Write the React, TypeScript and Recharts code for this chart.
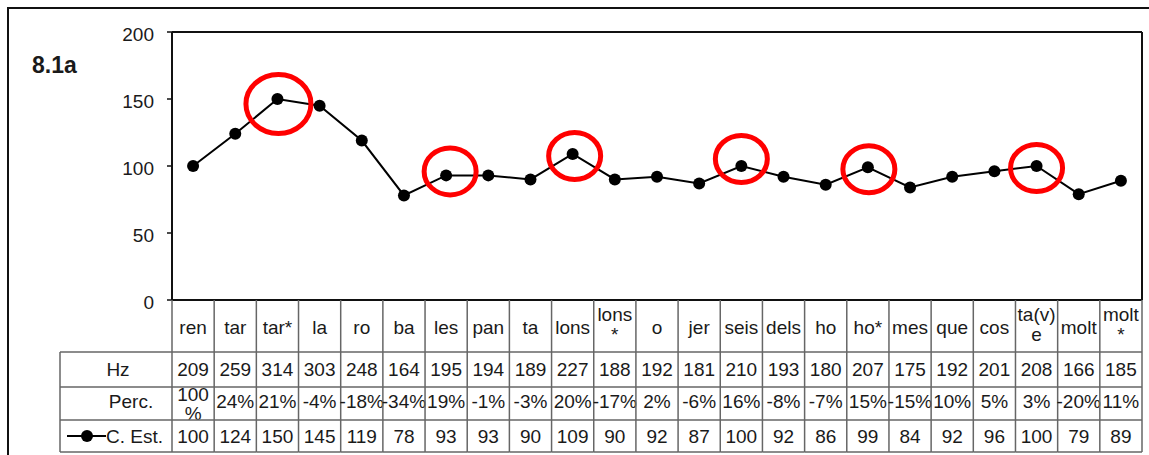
import React from "react";
import { LineChart, Line, XAxis, YAxis, ReferenceLine } from "recharts";

// syllables (x categories)
const cats = [
  "ren", "tar", "tar*", "la", "ro", "ba", "les", "pan", "ta", "lons", "lons*", "o",
  "jer", "seis", "dels", "ho", "ho*", "mes", "que", "cos", "ta(v)e", "molt", "molt*",
];
const hz = [209, 259, 314, 303, 248, 164, 195, 194, 189, 227, 188, 192, 181, 210, 193, 180, 207, 175, 192, 201, 208, 166, 185];
const perc = [100, 24, 21, -4, -18, -34, 19, -1, -3, 20, -17, 2, -6, 16, -8, -7, 15, -15, 10, 5, 3, -20, 11];
const est = [100, 124, 150, 145, 119, 78, 93, 93, 90, 109, 90, 92, 87, 100, 92, 86, 99, 84, 92, 96, 100, 79, 89];
const yTicks = [0, 50, 100, 150, 200];
const circled = ["tar*", "les", "lons", "seis", "ho*", "ta(v)e"];

const data = cats.map((c, i) => ({ cat: c, est: est[i] }));

const W = 1149;
const H = 455;
const M = { top: 32, right: 7, bottom: 3, left: 112 };
const YW = 60;
const PLOT_W = W - M.left - YW - M.right;
const BW = PLOT_W / cats.length;
const LABEL_W = 112;
const ROWS = [52, 35, 33, 32];
const FONT = "'Liberation Sans', Arial, sans-serif";
const GRID = "#666";
const INK = "#1a1a1a";

// ring look per circled syllable (size + small nudge)
const ringStyle: Record<string, { rx: number; ry: number; dx: number; dy: number }> = {
  "tar*": { rx: 32.5, ry: 29.5, dx: 1, dy: 5 },
  les: { rx: 26, ry: 23.5, dx: 4, dy: -4 },
  lons: { rx: 26, ry: 23.5, dx: 2, dy: 2 },
  seis: { rx: 26, ry: 23.5, dx: 0, dy: -7 },
  "ho*": { rx: 26, ry: 23.5, dx: 1, dy: 2 },
  "ta(v)e": { rx: 26, ry: 23.5, dx: 0, dy: 2 },
};

function splitLabel(s: string): string[] {
  if (s.length > 4) return [s.slice(0, -1), s.slice(-1)];
  return [s];
}

function RingDot(props: any) {
  const { cx, cy, index, payload } = props;
  const c = payload?.cat;
  const ring = circled.includes(c) ? ringStyle[c] : null;
  return (
    <g key={`dot-${index}`}>
      <circle cx={cx} cy={cy} r={6} fill="#000" />
      {ring && (
        <ellipse
          cx={cx + ring.dx}
          cy={cy + ring.dy}
          rx={ring.rx}
          ry={ring.ry}
          fill="none"
          stroke="#f00"
          strokeWidth={5}
        />
      )}
    </g>
  );
}

function YTick(props: any) {
  const { x, y, payload } = props;
  return (
    <text x={x} y={y + 9} textAnchor="end" fontSize={19} fill={INK} fontFamily={FONT}>
      {payload.value}
    </text>
  );
}

function TableTick(props: any) {
  const { x, y, payload } = props;
  const i = props.index ?? payload.index;
  const l = x - BW / 2;
  const r = x + BW / 2;
  const y1 = y + ROWS[0];
  const y2 = y1 + ROWS[1];
  const y3 = y2 + ROWS[2];
  const y4 = y3 + ROWS[3];
  const lab = splitLabel(cats[i]);
  const p = perc[i];
  const txt = { fontSize: 19, fill: INK, fontFamily: FONT, textAnchor: "middle" as const };
  const lx = l - LABEL_W;
  return (
    <g>
      {lab.length === 1 ? (
        <text x={x} y={y + 34} {...txt}>{lab[0]}</text>
      ) : (
        <>
          <text x={x} y={y + 21} {...txt}>{lab[0]}</text>
          <text x={x} y={y + 41} {...txt}>{lab[1]}</text>
        </>
      )}
      <text x={x} y={y1 + 24} {...txt}>{hz[i]}</text>
      {p >= 100 ? (
        <>
          <text x={x} y={y2 + 14} {...txt}>{p}</text>
          <text x={x} y={y2 + 33} {...txt}>%</text>
        </>
      ) : (
        <text x={x} y={y2 + 21} {...txt}>{`${p}%`}</text>
      )}
      <text x={x} y={y3 + 23} {...txt}>{est[i]}</text>

      {i === 0 && (
        <g>
          <text x={lx + 58} y={y1 + 24} {...txt}>Hz</text>
          <text x={lx + 71} y={y2 + 21} {...txt}>Perc.</text>
          <line x1={lx + 7} x2={lx + 46} y1={y3 + 16} y2={y3 + 16} stroke="#000" strokeWidth={2} />
          <circle cx={lx + 27} cy={y3 + 16} r={6} fill="#000" />
          <text x={lx + 46} y={y3 + 23} {...txt} textAnchor="start">C. Est.</text>
          <line x1={lx} x2={l} y1={y1} y2={y1} stroke={GRID} strokeWidth={1.5} />
          <line x1={lx} x2={l} y1={y2} y2={y2} stroke={GRID} strokeWidth={1.5} />
          <line x1={lx} x2={l} y1={y3} y2={y3} stroke={GRID} strokeWidth={1.5} />
          <line x1={lx} x2={l} y1={y4} y2={y4} stroke={GRID} strokeWidth={1.5} />
          <line x1={lx} x2={lx} y1={y1} y2={y4} stroke={GRID} strokeWidth={1.5} />
          <line x1={l} x2={l} y1={y} y2={y4} stroke={GRID} strokeWidth={1.5} />
        </g>
      )}
      <line x1={r} x2={r} y1={y} y2={y4} stroke={GRID} strokeWidth={1.5} />
      <line x1={l} x2={r} y1={y1} y2={y1} stroke={GRID} strokeWidth={1.5} />
      <line x1={l} x2={r} y1={y2} y2={y2} stroke={GRID} strokeWidth={1.5} />
      <line x1={l} x2={r} y1={y3} y2={y3} stroke={GRID} strokeWidth={1.5} />
      <line x1={l} x2={r} y1={y4} y2={y4} stroke={GRID} strokeWidth={1.5} />
    </g>
  );
}

export default function App() {
  return (
    <div
      style={{
        position: "absolute",
        left: 0,
        top: 0,
        width: W,
        height: H,
        background: "#fff",
        fontFamily: FONT,
        overflow: "hidden",
      }}
    >
      {/* outer frame */}
      <div
        style={{
          position: "absolute",
          left: 7,
          top: 7,
          right: 0,
          bottom: 0,
          borderTop: "2px solid #111",
          borderLeft: "2px solid #111",
        }}
      />
      <div
        style={{
          position: "absolute",
          left: 32,
          top: 52,
          fontSize: 23,
          fontWeight: "bold",
          color: INK,
        }}
      >
        8.1a
      </div>
      <div style={{ position: "absolute", left: 0, top: 0 }}>
        <LineChart width={W} height={H} data={data} margin={M}>
          <XAxis
            dataKey="cat"
            scale="band"
            interval={0}
            height={ROWS.reduce((a, b) => a + b, 0)}
            tickLine={false}
            tickSize={0}
            tickMargin={0}
            axisLine={{ stroke: "#111", strokeWidth: 2 }}
            tick={<TableTick />}
          />
          <YAxis
            domain={[0, 200]}
            ticks={yTicks}
            width={YW}
            tickSize={5}
            tickMargin={13}
            axisLine={{ stroke: "#111", strokeWidth: 2 }}
            tickLine={{ stroke: "#111", strokeWidth: 1.5 }}
            tick={<YTick />}
          />
          <ReferenceLine y={200} stroke="#111" strokeWidth={2} />
          <ReferenceLine x="molt*" position="end" stroke="#111" strokeWidth={2} />
          <Line
            dataKey="est"
            stroke="#000"
            strokeWidth={2}
            dot={(p: any) => <RingDot {...p} key={`d${p.index}`} />}
            activeDot={false}
            isAnimationActive={false}
          />
        </LineChart>
      </div>
    </div>
  );
}
